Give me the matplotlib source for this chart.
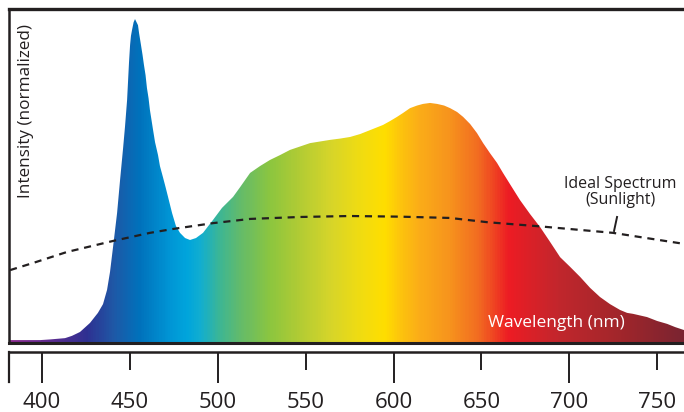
"""
LED spectrum vs ideal sunlight spectrum, rainbow-filled.
"""

import numpy as np
import matplotlib
matplotlib.use("Agg")
import matplotlib.pyplot as plt
from matplotlib.colors import LinearSegmentedColormap

plt.rcParams["font.family"] = ["Open Sans", "DejaVu Sans"]

# ── Data ─────────────────────────────────────────────
wavelength = [381.2, 399, 404.5, 413.1, 417, 421.6, 427.3, 431.8, 434.7, 437.0, 438.7,
              440.4, 442.7, 444.4, 446.1, 447.2, 448.4, 449.5, 450.1, 450.6, 451.2,
              452.1, 452.9, 454.6, 455.2, 456.3, 457.2, 458.0, 458.9, 459.7, 460.6,
              461.4, 463.2, 464.3, 466.0, 467.1, 468.8, 470.3, 471.7, 474.0, 476.2,
              478.5, 481.4, 484.2, 487.6, 491.6, 497.3, 502.4, 508.7, 512.7, 518.4,
              524.0, 529.7, 535.4, 541.1, 552.5, 558.2, 563.9, 569.6, 575.3, 581.0,
              586.6, 594.0, 598.0, 602.0, 605.4, 609.4, 613.4, 616.8, 620.8, 624.8,
              628.8, 632.2, 636.2, 639.6, 643.6, 647.5, 651.0, 654.9, 658.9, 662.3,
              666.9, 672.0, 677.7, 683.4, 689.1, 694.8, 700.5, 706.2, 711.9, 717.5,
              723.2, 728.9, 732.9, 736.3, 744.3, 750.0, 755.7, 760.3, 765.3]
intensity = [0.009, 0.009, 0.011, 0.015, 0.022, 0.034, 0.062, 0.093, 0.120, 0.164, 0.220,
             0.296, 0.401, 0.503, 0.600, 0.667, 0.750, 0.867, 0.920, 0.948, 0.966,
             0.990, 1.000, 0.981, 0.957, 0.920, 0.889, 0.858, 0.827, 0.787, 0.756,
             0.719, 0.657, 0.620, 0.580, 0.546, 0.512, 0.481, 0.451, 0.401, 0.361,
             0.340, 0.324, 0.318, 0.324, 0.340, 0.380, 0.417, 0.451, 0.481, 0.525,
             0.546, 0.565, 0.580, 0.596, 0.617, 0.622, 0.627, 0.631, 0.636, 0.645,
             0.657, 0.673, 0.685, 0.698, 0.710, 0.725, 0.733, 0.738, 0.741, 0.738,
             0.733, 0.725, 0.713, 0.698, 0.676, 0.648, 0.617, 0.586, 0.556, 0.525,
             0.485, 0.441, 0.398, 0.358, 0.312, 0.265, 0.235, 0.204, 0.170, 0.142,
             0.120, 0.102, 0.093, 0.090, 0.080, 0.068, 0.059, 0.049, 0.040]

sun_wavelength = [381.8, 394.9, 414.2, 440.4, 461.4, 474.5, 497.3, 518.4, 546.8, 575.3,
                  603.7, 632.2, 653.2, 683.4, 724.9, 765.3]
sun_intensity = [0.225, 0.247, 0.281, 0.315, 0.340, 0.352, 0.370, 0.383, 0.389, 0.392,
                 0.390, 0.386, 0.373, 0.360, 0.340, 0.306]

tick_major = [400, 500, 600, 700]
tick_minor = [450, 550, 650, 750]

# colour stops for the visible spectrum (nm, colour)
stop_nm = [381, 405, 425, 440, 455, 472, 482, 490, 500, 512, 530, 547, 564, 581,
           595, 605, 615, 632, 649, 666, 695, 730, 766]
stop_color = ["#8b2a8e", "#5b2c90", "#2e3192", "#1f58a6", "#0072bc", "#0095d5", "#00a5dc",
              "#12aed0", "#3ab698", "#62bb6c", "#8dc63f", "#b3cc34", "#d6d52a", "#f0dc12",
              "#ffde00", "#fdc20e", "#fbad18", "#f7941d", "#f26b21", "#ed1c24", "#c1272d",
              "#a1262b", "#7a2431"]

XMIN, XMAX = 381.2, 765.3
YMAX = 1.031
INK = "#231f20"

W, H = 684, 412
fig = plt.figure(figsize=(W / 100, H / 100), dpi=100)

# ── Main panel ───────────────────────────────────────
ax = fig.add_axes([9 / W, (H - 343) / H, 1 - 9 / W, 334 / H])
ax.set_xlim(XMIN, XMAX)
ax.set_ylim(0, YMAX)

span = stop_nm[-1] - stop_nm[0]
cmap = LinearSegmentedColormap.from_list(
    "spectrum", [((n - stop_nm[0]) / span, c) for n, c in zip(stop_nm, stop_color)])

poly = ax.fill_between(wavelength, intensity, 0, color="none", lw=0)
grad = np.linspace(stop_nm[0], stop_nm[-1], 800).reshape(1, -1)
img = ax.imshow(grad, cmap=cmap, vmin=stop_nm[0], vmax=stop_nm[-1], aspect="auto",
                extent=[stop_nm[0], stop_nm[-1], 0, YMAX], origin="lower",
                interpolation="bilinear", zorder=1)
img.set_clip_path(poly.get_paths()[0], transform=ax.transData)

ax.plot(sun_wavelength, sun_intensity, color=INK, lw=1.6, ls=(0, (3.2, 2.6)), zorder=3)

# label for the dashed curve with a short leader
ax.plot([727.2, 725.5], [0.389, 0.346], color=INK, lw=1.4, zorder=3)
ax.text(729, 0.466, "Ideal Spectrum\n(Sunlight)", ha="center", va="center",
        fontsize=11.5, color=INK, linespacing=1.05)
ax.text(692.5, 0.062, "Wavelength (nm)", ha="center", va="center", fontsize=12.5, color="white")

ax.set_xticks([])
ax.set_yticks([])
ax.spines["right"].set_visible(False)
ax.spines["top"].set_linewidth(2.4)
ax.spines["left"].set_linewidth(1.8)
ax.spines["bottom"].set_linewidth(2.2)
for s in ["top", "left", "bottom"]:
    ax.spines[s].set_color(INK)

fig.text(26 / W, 1 - 111 / H, "Intensity (normalized)", rotation=90,
         ha="center", va="center", fontsize=12.3, color=INK)

# ── Wavelength scale ─────────────────────────────────
ax2 = fig.add_axes([9 / W, (H - 382) / H, 1 - 9 / W, 30 / H])
ax2.set_xlim(XMIN, XMAX)
ax2.set_ylim(0, 1)
ax2.set_yticks([])
ax2.set_xticks(tick_major)
ax2.set_xticklabels([str(t) for t in tick_major])
ax2.set_xticks(tick_minor, minor=True)
ax2.set_xticklabels([str(t) for t in tick_minor], minor=True)
ax2.tick_params(which="both", top=True, bottom=False, direction="in",
                labeltop=False, labelbottom=True, width=1.4, color=INK,
                labelsize=16, labelcolor=INK, pad=7)
ax2.tick_params(which="major", length=22)
ax2.tick_params(which="minor", length=13)
for s in ["right", "bottom"]:
    ax2.spines[s].set_visible(False)
ax2.spines["top"].set_linewidth(1.8)
ax2.spines["left"].set_linewidth(1.6)
for s in ["top", "left"]:
    ax2.spines[s].set_color(INK)
ax2.patch.set_alpha(0)

fig.savefig("out.png", dpi=100)
